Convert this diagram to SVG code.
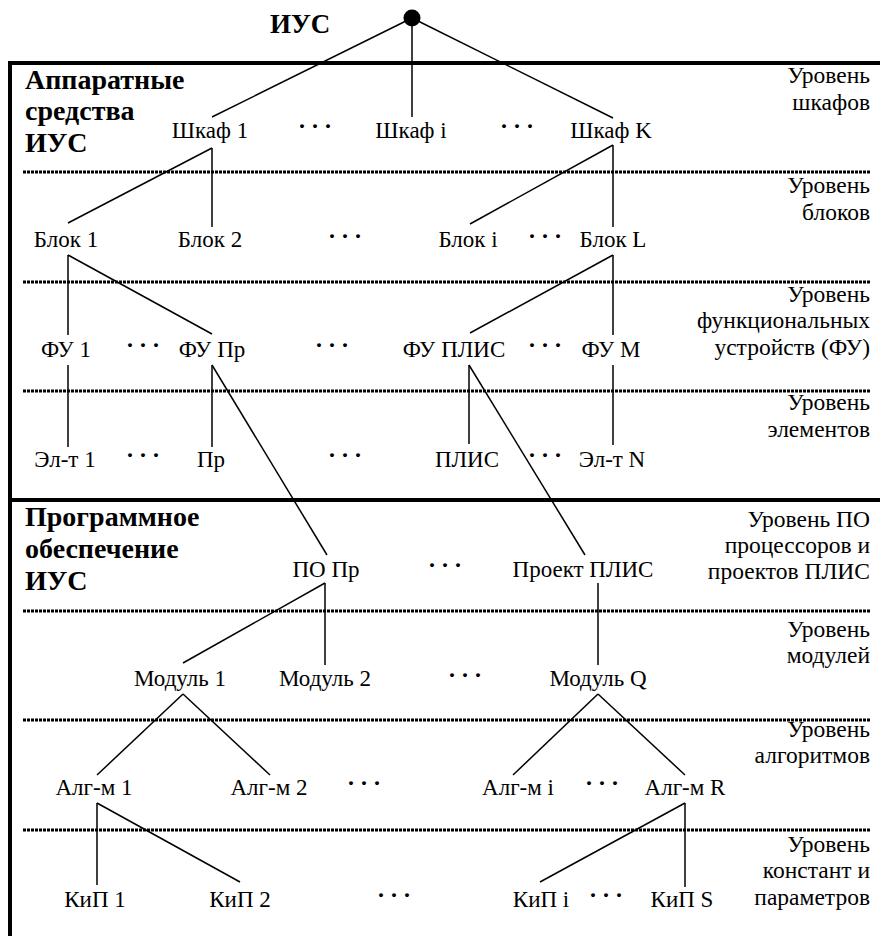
<svg xmlns="http://www.w3.org/2000/svg" width="880" height="936" viewBox="0 0 880 936">
<style>
text{font-family:"Liberation Serif","Times New Roman",serif;fill:#000}
.n{font-size:23px;text-anchor:middle}
.lv{font-size:23.5px;text-anchor:end}
.b{font-size:28px;font-weight:bold}
.t{font-size:27px;font-weight:bold}
.d{font-size:24px;font-weight:bold;letter-spacing:5px}
.frame{stroke:#000;stroke-width:4;fill:none}
.sep{stroke:#000;stroke-width:3;stroke-dasharray:3 1;fill:none}
#connectors line{stroke:#000;stroke-width:1.5}
</style>
<rect width="880" height="936" fill="#fff"/>
<g id="frame">
<line class="frame" x1="8" y1="63" x2="880" y2="63"/>
<line class="frame" x1="10" y1="61" x2="10" y2="936"/>
<line class="frame" x1="8" y1="500" x2="880" y2="500"/>
</g>
<g id="separators">
<line class="sep" x1="23" y1="172" x2="871" y2="172"/>
<line class="sep" x1="23" y1="282" x2="871" y2="282"/>
<line class="sep" x1="23" y1="391" x2="871" y2="391"/>
<line class="sep" x1="23" y1="611" x2="871" y2="611"/>
<line class="sep" x1="23" y1="720" x2="871" y2="720"/>
<line class="sep" x1="23" y1="830" x2="871" y2="830"/>
</g>
<g id="section-labels">
<text class="t" x="270" y="33">ИУС</text>
<text class="b" x="25" y="89">Аппаратные</text>
<text class="b" x="25" y="120">средства</text>
<text class="b" x="25" y="152">ИУС</text>
<text class="b" x="25" y="526">Программное</text>
<text class="b" x="25" y="558">обеспечение</text>
<text class="b" x="25" y="590">ИУС</text>
</g>
<g id="level-labels">
<text class="lv" x="870" y="83">Уровень</text>
<text class="lv" x="870" y="110">шкафов</text>
<text class="lv" x="870" y="193">Уровень</text>
<text class="lv" x="870" y="220">блоков</text>
<text class="lv" x="870" y="302">Уровень</text>
<text class="lv" x="870" y="328">функциональных</text>
<text class="lv" x="870" y="355">устройств (ФУ)</text>
<text class="lv" x="870" y="410">Уровень</text>
<text class="lv" x="870" y="437">элементов</text>
<text class="lv" x="870" y="527">Уровень ПО</text>
<text class="lv" x="870" y="553">процессоров и</text>
<text class="lv" x="870" y="579">проектов ПЛИС</text>
<text class="lv" x="870" y="637">Уровень</text>
<text class="lv" x="870" y="663">модулей</text>
<text class="lv" x="870" y="737">Уровень</text>
<text class="lv" x="870" y="763">алгоритмов</text>
<text class="lv" x="870" y="852">Уровень</text>
<text class="lv" x="870" y="878">констант и</text>
<text class="lv" x="870" y="905">параметров</text>
</g>
<g id="connectors">
<line x1="412" y1="18" x2="212" y2="117"/>
<line x1="412" y1="18" x2="412" y2="117"/>
<line x1="412" y1="18" x2="613" y2="118"/>
<line x1="212" y1="148" x2="68" y2="223"/>
<line x1="212" y1="148" x2="212" y2="227"/>
<line x1="613" y1="145" x2="470" y2="224"/>
<line x1="613" y1="145" x2="613" y2="227"/>
<line x1="68" y1="255" x2="68" y2="335"/>
<line x1="68" y1="255" x2="212" y2="334"/>
<line x1="613" y1="255" x2="470" y2="333"/>
<line x1="613" y1="255" x2="613" y2="335"/>
<line x1="68" y1="365" x2="68" y2="447"/>
<line x1="212" y1="365" x2="212" y2="447"/>
<line x1="212" y1="365" x2="327" y2="555"/>
<line x1="469" y1="365" x2="469" y2="444"/>
<line x1="469" y1="365" x2="585" y2="555"/>
<line x1="613" y1="365" x2="613" y2="445"/>
<line x1="325" y1="583" x2="183" y2="663"/>
<line x1="325" y1="583" x2="325" y2="665"/>
<line x1="598" y1="583" x2="598" y2="665"/>
<line x1="183" y1="694" x2="97" y2="775"/>
<line x1="183" y1="694" x2="270" y2="775"/>
<line x1="598" y1="694" x2="513" y2="775"/>
<line x1="598" y1="694" x2="685" y2="775"/>
<line x1="97" y1="803" x2="97" y2="885"/>
<line x1="97" y1="803" x2="240" y2="882"/>
<line x1="685" y1="803" x2="540" y2="882"/>
<line x1="685" y1="803" x2="685" y2="887"/>
</g>
<g id="root"><circle cx="412" cy="18" r="8.5" fill="#000"/></g>
<g id="shkaf1"><text class="n" x="210" y="138">Шкаф 1</text></g>
<g id="shkafi"><text class="n" x="411" y="138">Шкаф i</text></g>
<g id="shkafK"><text class="n" x="611" y="138">Шкаф K</text></g>
<g id="blok1"><text class="n" x="66" y="247">Блок 1</text></g>
<g id="blok2"><text class="n" x="210" y="247">Блок 2</text></g>
<g id="bloki"><text class="n" x="468" y="247">Блок i</text></g>
<g id="blokL"><text class="n" x="613" y="247">Блок L</text></g>
<g id="fu1"><text class="n" x="66" y="357">ФУ 1</text></g>
<g id="fupr"><text class="n" x="212" y="357">ФУ Пр</text></g>
<g id="fuplis"><text class="n" x="454" y="357">ФУ ПЛИС</text></g>
<g id="fuM"><text class="n" x="611" y="357">ФУ М</text></g>
<g id="el1"><text class="n" x="65" y="467">Эл-т 1</text></g>
<g id="pr"><text class="n" x="211" y="467">Пр</text></g>
<g id="plis"><text class="n" x="467" y="467">ПЛИС</text></g>
<g id="elN"><text class="n" x="612" y="467">Эл-т N</text></g>
<g id="popr"><text class="n" x="326" y="577">ПО Пр</text></g>
<g id="proekt"><text class="n" x="583" y="577">Проект ПЛИС</text></g>
<g id="mod1"><text class="n" x="180" y="686">Модуль 1</text></g>
<g id="mod2"><text class="n" x="325" y="686">Модуль 2</text></g>
<g id="modQ"><text class="n" x="598" y="686">Модуль Q</text></g>
<g id="alg1"><text class="n" x="94" y="795">Алг-м 1</text></g>
<g id="alg2"><text class="n" x="269" y="795">Алг-м 2</text></g>
<g id="algi"><text class="n" x="518" y="795">Алг-м i</text></g>
<g id="algR"><text class="n" x="685" y="795">Алг-м R</text></g>
<g id="kip1"><text class="n" x="95" y="907">КиП 1</text></g>
<g id="kip2"><text class="n" x="240" y="907">КиП 2</text></g>
<g id="kipi"><text class="n" x="541" y="907">КиП i</text></g>
<g id="kipS"><text class="n" x="682" y="907">КиП S</text></g>
<g id="ellipses">
<text class="d" x="298" y="134">···</text>
<text class="d" x="500" y="134">···</text>
<text class="d" x="328" y="244">···</text>
<text class="d" x="528" y="244">···</text>
<text class="d" x="126" y="353">···</text>
<text class="d" x="315" y="353">···</text>
<text class="d" x="528" y="353">···</text>
<text class="d" x="126" y="463">···</text>
<text class="d" x="328" y="463">···</text>
<text class="d" x="528" y="463">···</text>
<text class="d" x="428" y="573">···</text>
<text class="d" x="448" y="683">···</text>
<text class="d" x="347" y="791">···</text>
<text class="d" x="585" y="791">···</text>
<text class="d" x="377" y="903">···</text>
<text class="d" x="589" y="903">···</text>
</g>
</svg>
